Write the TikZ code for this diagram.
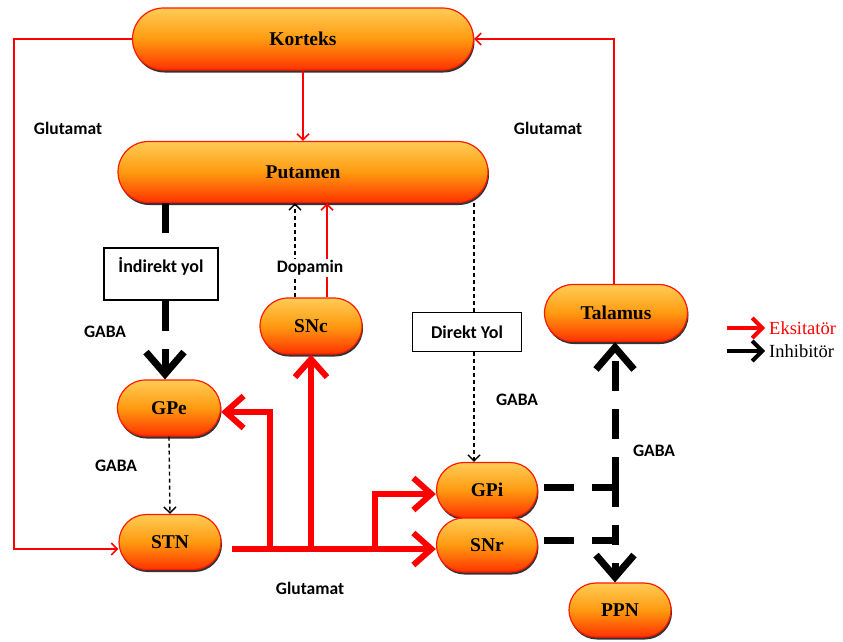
\documentclass[tikz,border=0pt]{standalone}
\usepackage{fontspec}
\setmainfont{Liberation Serif}
\newfontfamily\lab{Carlito}
\usetikzlibrary{shapes.misc,shadows,arrows.meta,calc}
\definecolor{ntop}{HTML}{FFCC55}
\definecolor{nmid}{HTML}{FF9A10}
\definecolor{nbot}{HTML}{FF3300}
\definecolor{nred}{HTML}{FF1A00}
\definecolor{lred}{HTML}{FF0000}
\begin{document}
\begin{tikzpicture}[x=1pt,y=-1pt,
  blob/.style={rounded rectangle, draw=nred, line width=1.2pt,
    top color=ntop, bottom color=nbot, middle color=nmid,
    drop shadow={shadow xshift=1pt, shadow yshift=-2.5pt, fill=black, opacity=0.8},
    font=\bfseries\fontsize{19.5}{22}\selectfont, inner sep=0pt},
  pathbox/.style={draw=black, line width=1.4pt, fill=white, inner sep=0pt,
    font=\lab\bfseries\fontsize{18}{21}\selectfont},
  lbl/.style={font=\lab\bfseries\fontsize{17.5}{20}\selectfont, inner sep=1pt},
  redthick/.style={draw=lred, line width=6pt, -{Straight Barb[length=18pt,width=32pt]}},
  thinred/.style={draw=lred, line width=1.6pt, -{Straight Barb[length=6pt,width=12pt]}},
  blkthin/.style={draw=black, line width=1.4pt, dash pattern=on 4pt off 3pt, -{Straight Barb[length=6pt,width=12pt]}},
  blkthick/.style={draw=black, line width=7pt, dash pattern=on 30pt off 18pt},
  blktip/.style={-{Straight Barb[length=22pt,width=38pt]}},
  legarrow/.style={line width=4pt, shorten >=3pt, -{Straight Barb[length=10pt,width=20pt]}},
]
\useasboundingbox (0,0) rectangle (843,641);

% nodes
\node[blob, minimum width=341, minimum height=62] (kor) at (303,39) {Korteks};
\node[blob, minimum width=370, minimum height=61] (put) at (303,172) {Putamen};
\node[blob, minimum width=102, minimum height=56] (snc) at (311,326) {SNc};
\node[blob, minimum width=103, minimum height=56] (gpe) at (169,408) {GPe};
\node[blob, minimum width=102, minimum height=55] (stn) at (170,542) {STN};
\node[blob, minimum width=101, minimum height=55] (gpi) at (487,490) {GPi};
\node[blob, minimum width=101, minimum height=54] (snr) at (487,545) {SNr};
\node[blob, minimum width=143, minimum height=57] (tal) at (616,313) {Talamus};
\node[blob, minimum width=102, minimum height=54] (ppn) at (620,610) {PPN};

\node[pathbox, minimum width=114, minimum height=52, text height=12pt, text depth=16pt] (ind) at (161,274) {İndirekt yol};
\node[pathbox, minimum width=109, minimum height=39] (dir) at (467,332) {Direkt Yol};

% coordinates
\coordinate (kl) at (14,39);
\coordinate (tx) at (614,0);
\coordinate (ix) at (165,0);
\coordinate (dx) at (474,0);
\coordinate (b0) at (232,549);
\coordinate (b1) at (270,549);
\coordinate (b2) at (311,549);
\coordinate (b3) at (375,549);
\coordinate (j1) at (615,487);
\coordinate (j2) at (615,540);

% red thin glutamate loops
\draw[thinred] (kor.west) -- (kl) |- ([yshift=-7pt]stn.west);
\draw[thinred] (tal.north -| tx) |- (kor.east);
\draw[thinred] (kor.south) -- (put.north);

% indirect path
\draw[blkthick] (ix |- put.south) -- (ix |- ind.north);
\draw[blkthick, blktip] (ix |- ind.south) -- (ix |- gpe.north);
% direct path
\draw[blkthin, -] (dx |- put.south) -- (dx |- dir.north);
\draw[blkthin] (dx |- dir.south) -- (dx |- gpi.north);
% GPe -> STN
\draw[blkthin] (gpe.south) -- (stn.north);

% dopamine
\draw[blkthin] ([xshift=-16pt]snc.north) -- ([xshift=-16pt]snc.north |- put.south);
\draw[thinred] ([xshift=16pt]snc.north) -- ([xshift=16pt]snc.north |- put.south);

% STN glutamate bus
\draw[redthick] (b0) -- (b0 -| snr.west);
\draw[redthick] (b1) |- ([yshift=-4pt]gpe.east);
\draw[redthick] (b2) -- (snc.south);
\draw[redthick] (b3) |- ([yshift=-4pt]gpi.west);

% GPi/SNr outputs
\draw[blkthick, shorten <=6pt] (gpi.east |- j1) -- (j1);
\draw[blkthick, shorten <=6pt] (snr.east |- j2) -- (j2);
\draw[blkthick, blktip] (j1) -- (tal.south -| j1);
\draw[blkthick, blktip, dash pattern=on 20pt off 18pt] (j1) -- (ppn.north -| j1);

% labels
\node[lbl] (g1) at (68,128) {Glutamat};
\node[lbl] (g2) at (548,128) {Glutamat};
\node[lbl] (ga1) at (105,332) {GABA};
\node[lbl, fill=white] (dop) at (310,268) {Dopamin};
\node[lbl] (ga2) at (116,466) {GABA};
\node[lbl] (ga3) at (517,400) {GABA};
\node[lbl] (ga4) at (654,451) {GABA};
\node[lbl] (g3) at (310,588) {Glutamat};

% legend
\node[anchor=west, text=lred, font=\fontsize{18.5}{21}\selectfont, inner sep=1pt] (eks) at (768,328) {Eksitatör};
\node[anchor=west, font=\fontsize{18.5}{21}\selectfont, inner sep=1pt] (inh) at (768,351) {Inhibitör};
\coordinate (l1) at (727,328);
\coordinate (l2) at (727,351);
\draw[legarrow, draw=lred] (l1) -- (eks.west);
\draw[legarrow, draw=black] (l2) -- (inh.west);
\end{tikzpicture}
\end{document}
